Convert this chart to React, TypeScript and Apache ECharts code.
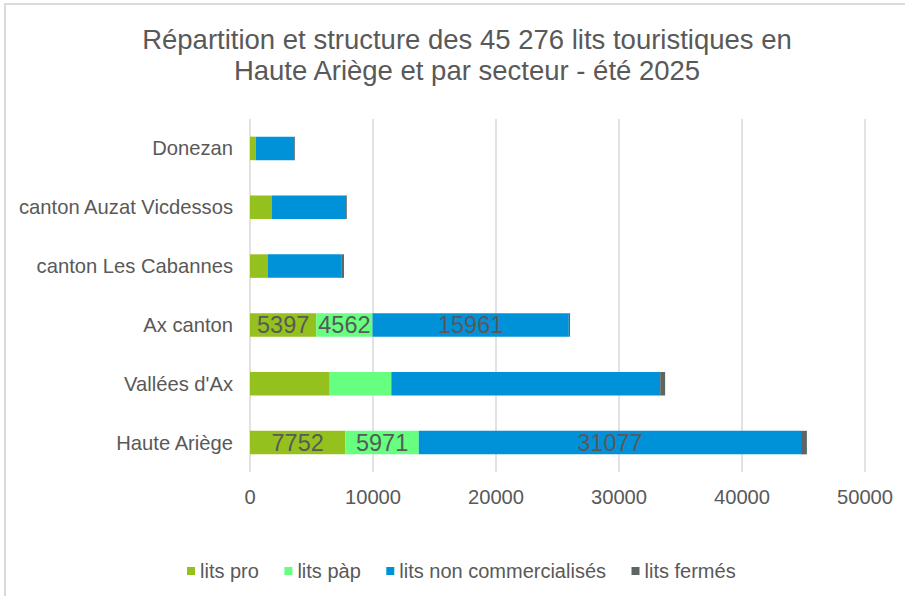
import React, { useEffect, useRef } from "react";
import * as echarts from "echarts";

const categories = [
  "Donezan",
  "canton Auzat Vicdessos",
  "canton Les Cabannes",
  "Ax canton",
  "Vallées d'Ax",
  "Haute Ariège",
];
const litsPro = [460, 1790, 1460, 5397, 6480, 7752];
const litsPap = [0, 0, 0, 4562, 5010, 5971];
const litsNonCom = [3140, 6030, 5960, 15961, 21860, 31077];
const litsFermes = [60, 60, 220, 100, 400, 476];
const labelledCategories = ["Ax canton", "Haute Ariège"];
const seriesNames = ["lits pro", "lits pàp", "lits non commercialisés", "lits fermés"];
const seriesColors = ["#95C11F", "#66FF80", "#0092D8", "#5E6563"];
const xTicks = { min: 0, max: 50000, interval: 10000 };

const FONT = "'Liberation Sans', Arial, sans-serif";
const GREY = "#595959";

export default function App() {
  const ref = useRef<HTMLDivElement>(null);
  useEffect(() => {
    if (!ref.current) return;
    const chart = echarts.init(ref.current, undefined, { renderer: "svg" });
    const allData = [litsPro, litsPap, litsNonCom, litsFermes];
    const series = allData.map((arr, si) => ({
      name: seriesNames[si],
      type: "bar",
      stack: "total",
      barCategoryGap: "60%",
      itemStyle: { color: seriesColors[si] },
      data: arr.map((v, i) => ({
        value: v,
        label: {
          show: si < 3 && labelledCategories.includes(categories[i]),
        },
      })),
      label: {
        position: "inside",
        color: GREY,
        fontSize: 23.5,
        fontFamily: FONT,
      },
    }));
    chart.setOption({
      animation: false,
      backgroundColor: "#ffffff",
      textStyle: { fontFamily: FONT },
      title: {
        text: "Répartition et structure des 45 276 lits touristiques en\nHaute Ariège et par secteur - été 2025",
        left: 462,
        top: 19,
        textAlign: "center",
        textStyle: {
          fontFamily: FONT,
          fontSize: 27.5,
          fontWeight: "normal",
          color: GREY,
          lineHeight: 31,
        },
      },
      legend: {
        left: 182,
        top: 556,
        icon: "rect",
        itemWidth: 8,
        itemHeight: 8,
        itemGap: 25.5,
        textStyle: { fontFamily: FONT, fontSize: 20, color: GREY },
        data: seriesNames,
      },
      grid: { left: 250, right: 40, top: 119, bottom: 124, containLabel: false },
      xAxis: {
        type: "value",
        min: xTicks.min,
        max: xTicks.max,
        interval: xTicks.interval,
        axisLine: { show: false },
        axisTick: { show: false },
        splitLine: { show: true, lineStyle: { color: "#D9D9D9", width: 1.5 } },
        axisLabel: {
          color: GREY,
          fontSize: 20.2,
          fontFamily: FONT,
          margin: 15,
          formatter: (v: number) => String(v),
        },
      },
      yAxis: {
        type: "category",
        data: categories,
        inverse: true,
        axisLine: { show: false },
        axisTick: { show: false },
        axisLabel: { color: GREY, fontSize: 20.2, fontFamily: FONT, margin: 17 },
      },
      graphic: [
        {
          type: "rect",
          shape: { x: 5, y: 4, width: 1000, height: 1000 },
          style: { fill: "none", stroke: "#D9D9D9", lineWidth: 2 },
          silent: true,
          z: -1,
        },
      ],
      series,
    });
    return () => chart.dispose();
  }, []);
  return (
    <div
      ref={ref}
      style={{ position: "fixed", left: 0, top: 0, width: 905, height: 596 }}
    />
  );
}
